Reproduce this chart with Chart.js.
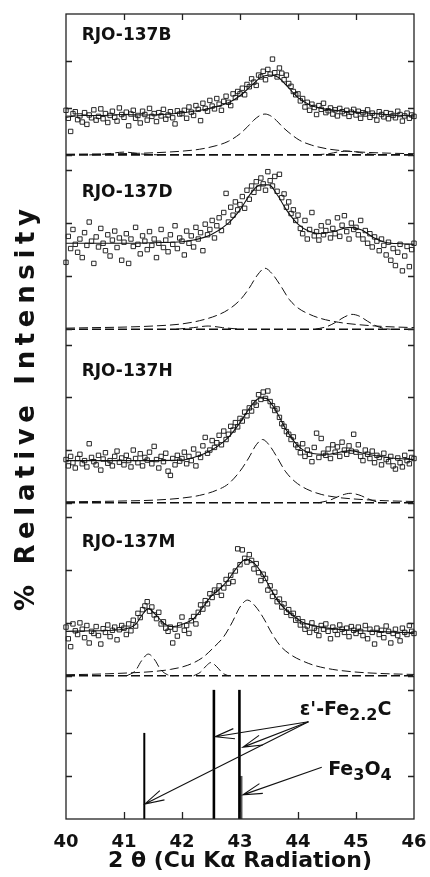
<!DOCTYPE html>
<html>
<head>
<meta charset="utf-8">
<script src="https://cdn.jsdelivr.net/npm/chart.js@4.4.1/dist/chart.umd.min.js"></script>
<style>
  html, body { margin: 0; padding: 0; background: #fff; }
  #wrap { width: 430px; height: 877px; }
</style>
</head>
<body>
<div id="wrap"><canvas id="xrd" width="430" height="877"></canvas></div>
<script>
// ================= DATA =================
// scans: one value every 0.04 deg from 40 to 46 (2 theta), intensity in panel units
const scanStart = 40;
const scanStep = 0.04;

const sampleNames = ["RJO-137B", "RJO-137D", "RJO-137H", "RJO-137M"];
const xTickValues = [40, 41, 42, 43, 44, 45, 46];
const yTickValues = [0, 1, 2, 3];
const xTitle = "2 θ (Cu Kα Radiation)";
const yTitle = "% Relative Intensity";

const scanB = [
  0.95, 0.78, 0.50, 0.88, 0.92, 0.75, 0.83, 0.70, 0.90, 0.65, 0.85, 0.79, 0.96, 0.74, 0.82, 0.98, 0.77, 0.88, 0.69, 0.84, 0.93, 0.80, 0.72, 1.00, 0.86,
  0.80, 0.91, 0.62, 0.87, 0.95, 0.78, 0.84, 0.68, 0.93, 0.86, 0.74, 0.99, 0.82, 0.88, 0.71, 0.90, 0.83, 0.97, 0.76, 0.85, 0.92, 0.79, 0.66, 0.94, 0.87,
  0.88, 0.95, 0.78, 1.02, 0.91, 0.84, 1.05, 0.97, 0.73, 1.10, 0.99, 0.93, 1.16, 1.04, 0.98, 1.20, 1.08, 0.95, 1.14, 1.25, 1.12, 1.05, 1.30, 1.22, 1.35,
  1.30, 1.42, 1.28, 1.50, 1.45, 1.62, 1.55, 1.48, 1.70, 1.66, 1.78, 1.60, 1.82, 1.72, 2.04, 1.75, 1.66, 1.85, 1.74, 1.60, 1.70, 1.52, 1.46, 1.35, 1.28,
  1.30, 1.15, 1.20, 1.02, 1.12, 0.95, 1.08, 1.01, 0.86, 1.05, 0.97, 1.10, 0.90, 0.94, 1.00, 0.87, 0.96, 0.83, 0.99, 0.92, 0.88, 0.95, 0.82, 0.91, 0.97,
  0.85, 0.93, 0.78, 0.90, 0.87, 0.96, 0.80, 0.89, 0.84, 0.74, 0.92, 0.86, 0.81, 0.90, 0.77, 0.88, 0.84, 0.79, 0.93, 0.86, 0.72, 0.83, 0.89, 0.78, 0.85, 0.82,
];
const scanD = [
  1.26, 1.75, 1.52, 1.88, 1.60, 1.45, 1.70, 1.35, 1.82, 1.58, 2.02, 1.66, 1.24, 1.74, 1.55, 1.90, 1.62, 1.48, 1.78, 1.38, 1.68, 1.85, 1.54, 1.72, 1.30,
  1.64, 1.80, 1.24, 1.70, 1.56, 1.92, 1.60, 1.42, 1.76, 1.66, 1.50, 1.84, 1.58, 1.70, 1.35, 1.62, 1.88, 1.54, 1.68, 1.46, 1.78, 1.60, 1.95, 1.52, 1.72,
  1.66, 1.40, 1.85, 1.62, 1.76, 1.55, 1.92, 1.70, 1.82, 1.48, 1.98, 1.78, 1.88, 2.05, 1.72, 1.95, 2.10, 1.86, 2.20, 2.56, 2.02, 2.30, 2.15, 2.40, 2.25,
  2.35, 2.50, 2.28, 2.62, 2.45, 2.70, 2.58, 2.78, 2.66, 2.85, 2.74, 2.62, 2.97, 2.80, 2.70, 2.88, 2.60, 2.92, 2.48, 2.55, 2.30, 2.40, 2.18, 2.25, 2.05,
  2.15, 1.90, 1.80, 2.05, 1.70, 1.88, 2.20, 1.76, 1.84, 1.68, 1.95, 1.78, 1.86, 2.02, 1.72, 1.90, 1.80, 2.10, 1.75, 1.96, 2.14, 1.84, 1.70, 2.00, 1.88,
  1.92, 1.78, 2.05, 1.70, 1.86, 1.62, 1.80, 1.55, 1.74, 1.66, 1.48, 1.70, 1.58, 1.40, 1.64, 1.30, 1.52, 1.20, 1.45, 1.60, 1.10, 1.38, 1.56, 1.18, 1.50, 1.62,
];
const scanH = [
  0.82, 0.70, 0.88, 0.76, 0.66, 0.84, 0.92, 0.74, 0.80, 0.68, 1.12, 0.86, 0.78, 0.72, 0.90, 0.62, 0.83, 0.95, 0.75, 0.80, 0.70, 0.88, 0.98, 0.77, 0.85,
  0.72, 0.90, 0.80, 0.68, 1.00, 0.84, 0.76, 0.93, 0.70, 0.86, 0.81, 0.96, 0.74, 1.07, 0.82, 0.66, 0.88, 0.78, 0.94, 0.60, 0.52, 0.84, 0.72, 0.90, 0.79,
  0.84, 0.96, 0.74, 0.88, 0.80, 1.02, 0.70, 0.92, 0.86, 1.08, 1.24, 0.94, 1.00, 1.18, 1.05, 1.14, 1.28, 1.10, 1.36, 1.20, 1.30, 1.45, 1.38, 1.52, 1.44,
  1.60, 1.55, 1.72, 1.65, 1.80, 1.74, 1.90, 1.85, 2.05, 1.96, 2.10, 1.98, 2.12, 1.92, 1.84, 1.75, 1.78, 1.62, 1.50, 1.45, 1.35, 1.30, 1.20, 1.25, 1.10,
  1.05, 0.95, 1.12, 0.88, 1.00, 0.92, 0.78, 1.05, 1.32, 0.86, 1.22, 0.94, 0.90, 1.02, 0.84, 1.10, 0.96, 1.06, 0.88, 1.15, 1.00, 0.92, 1.08, 0.98, 1.30,
  0.96, 1.10, 0.88, 0.80, 1.00, 0.92, 0.84, 0.98, 0.76, 0.90, 0.86, 0.72, 0.94, 0.82, 0.78, 0.88, 0.70, 0.64, 0.85, 0.76, 0.68, 0.90, 0.80, 0.74, 0.86, 0.84,
];
const scanM = [
  0.92, 0.70, 0.55, 0.98, 0.85, 0.78, 1.00, 0.88, 0.72, 0.95, 0.62, 0.84, 0.80, 0.93, 0.76, 0.60, 0.89, 0.82, 0.96, 0.74, 0.86, 0.92, 0.68, 0.87, 0.95,
  0.90, 0.78, 0.98, 0.85, 1.05, 0.94, 1.18, 1.10, 1.25, 1.32, 1.40, 1.22, 1.30, 1.15, 1.08, 1.20, 0.98, 1.02, 0.90, 0.84, 0.92, 0.62, 0.88, 0.75, 0.96,
  1.11, 0.86, 0.95, 0.80, 1.04, 1.12, 0.98, 1.20, 1.34, 1.26, 1.42, 1.36, 1.55, 1.48, 1.62, 1.58, 1.70, 1.52, 1.66, 1.82, 1.75, 1.90, 1.78, 1.98, 2.40,
  2.10, 2.38, 2.22, 2.15, 2.29, 2.18, 2.02, 2.12, 1.95, 1.80, 1.92, 1.84, 1.62, 1.70, 1.50, 1.58, 1.40, 1.45, 1.30, 1.36, 1.20, 1.25, 1.14, 1.18, 1.05,
  1.08, 0.96, 1.02, 0.88, 0.94, 0.82, 1.00, 0.90, 0.86, 0.76, 0.95, 0.88, 0.98, 0.84, 0.70, 0.92, 0.86, 0.78, 0.96, 0.88, 0.82, 0.90, 0.74, 0.93, 0.86,
  0.80, 0.92, 0.84, 0.76, 0.95, 0.70, 0.88, 0.82, 0.60, 0.90, 0.78, 0.86, 0.72, 0.94, 0.84, 0.62, 0.80, 0.88, 0.76, 0.66, 0.90, 0.82, 0.78, 0.95, 0.84, 0.80,
];

// fitted curves [2theta, intensity]
const fitB = [[40, 0.80], [40.3, 0.84], [40.6, 0.84], [41, 0.86], [41.4, 0.85], [41.8, 0.87], [42.2, 0.93], [42.5, 1.0], [42.8, 1.11], [43, 1.26], [43.2, 1.48], [43.35, 1.64], [43.5, 1.70], [43.65, 1.66], [43.8, 1.48], [44, 1.22], [44.2, 1.07], [44.4, 0.99], [44.7, 0.94], [45, 0.91], [45.4, 0.87], [45.8, 0.84], [46, 0.83]];
const fitD = [[40, 1.62], [40.5, 1.62], [41, 1.62], [41.5, 1.63], [42, 1.65], [42.2, 1.68], [42.5, 1.78], [42.8, 2.0], [43, 2.25], [43.2, 2.58], [43.35, 2.72], [43.5, 2.72], [43.65, 2.52], [43.8, 2.25], [44, 1.98], [44.2, 1.84], [44.4, 1.80], [44.6, 1.84], [44.9, 1.92], [45.1, 1.87], [45.3, 1.73], [45.5, 1.64], [45.8, 1.61], [46, 1.60]];
const fitH = [[40, 0.80], [41, 0.80], [42, 0.81], [42.2, 0.86], [42.4, 0.94], [42.6, 1.06], [42.8, 1.24], [43, 1.52], [43.2, 1.85], [43.35, 1.99], [43.45, 1.98], [43.6, 1.78], [43.8, 1.38], [44, 1.08], [44.2, 0.95], [44.5, 0.92], [44.9, 0.99], [45.2, 0.92], [45.6, 0.85], [46, 0.82]];
const fitM = [[40, 0.84], [40.5, 0.85], [41, 0.88], [41.2, 0.97], [41.3, 1.13], [41.42, 1.27], [41.55, 1.15], [41.7, 0.98], [41.85, 0.93], [42, 0.97], [42.2, 1.08], [42.35, 1.28], [42.5, 1.5], [42.65, 1.64], [42.8, 1.82], [42.95, 2.05], [43.1, 2.2], [43.25, 2.12], [43.4, 1.9], [43.55, 1.6], [43.7, 1.35], [43.9, 1.15], [44.1, 1.0], [44.4, 0.92], [44.8, 0.87], [45.3, 0.84], [46, 0.81]];

// deconvoluted peaks (dashed)
const baseline = [[40, 0], [46, 0]];
const peakB = [[40, 0.015], [40.5, 0.02], [41, 0.028], [41.5, 0.045], [42, 0.08], [42.3, 0.12], [42.6, 0.2], [42.8, 0.29], [43, 0.45], [43.13, 0.6], [43.23, 0.73], [43.33, 0.83], [43.43, 0.87], [43.53, 0.83], [43.63, 0.73], [43.73, 0.6], [43.83, 0.49], [44.03, 0.31], [44.23, 0.21], [44.5, 0.13], [44.8, 0.085], [45.2, 0.053], [45.6, 0.036], [46, 0.026]];
const minorB1 = [[40.4, 0], [40.7, 0.02], [40.85, 0.045], [41, 0.06], [41.15, 0.045], [41.3, 0.02], [41.6, 0]];
const minorB2 = [[44.3, 0], [44.55, 0.03], [44.7, 0.065], [44.85, 0.08], [45, 0.065], [45.15, 0.03], [45.4, 0]];
const peakD = [[40, 0.02], [40.5, 0.03], [41, 0.04], [41.5, 0.06], [42, 0.1], [42.3, 0.16], [42.6, 0.26], [42.8, 0.37], [43, 0.55], [43.15, 0.76], [43.3, 1.02], [43.43, 1.15], [43.55, 1.05], [43.7, 0.82], [43.85, 0.56], [44, 0.4], [44.2, 0.28], [44.4, 0.2], [44.7, 0.13], [45, 0.09], [45.5, 0.05], [46, 0.03]];
const minorD1 = [[41.9, 0], [42.2, 0.03], [42.45, 0.06], [42.7, 0.03], [43, 0]];
const minorD2 = [[44.3, 0], [44.5, 0.05], [44.65, 0.13], [44.8, 0.23], [44.93, 0.28], [45.05, 0.25], [45.2, 0.15], [45.35, 0.06], [45.5, 0.01], [45.6, 0]];
const peakH = [[40, 0.02], [40.5, 0.025], [41, 0.035], [41.5, 0.05], [42, 0.09], [42.3, 0.14], [42.6, 0.24], [42.8, 0.36], [43, 0.6], [43.15, 0.85], [43.28, 1.1], [43.39, 1.2], [43.5, 1.1], [43.63, 0.88], [43.78, 0.6], [43.95, 0.4], [44.15, 0.26], [44.4, 0.16], [44.7, 0.1], [45, 0.07], [45.5, 0.04], [46, 0.025]];
const minorH = [[44.35, 0], [44.55, 0.05], [44.72, 0.13], [44.9, 0.18], [45.05, 0.15], [45.2, 0.08], [45.35, 0.02], [45.5, 0]];
const peakM = [[40, 0.02], [40.5, 0.03], [41, 0.05], [41.5, 0.08], [41.8, 0.12], [42.1, 0.2], [42.35, 0.34], [42.55, 0.54], [42.72, 0.74], [42.87, 1.02], [43, 1.3], [43.13, 1.43], [43.26, 1.32], [43.4, 1.1], [43.55, 0.8], [43.7, 0.56], [43.9, 0.38], [44.1, 0.27], [44.3, 0.19], [44.6, 0.12], [45, 0.07], [45.5, 0.04], [46, 0.025]];
const minorM1 = [[41.05, 0], [41.2, 0.1], [41.3, 0.28], [41.42, 0.41], [41.53, 0.3], [41.63, 0.12], [41.75, 0.02], [41.85, 0]];
const minorM2 = [[42.2, 0], [42.32, 0.07], [42.42, 0.19], [42.5, 0.25], [42.6, 0.17], [42.7, 0.05], [42.8, 0]];

// reference patterns (stick lines)
const epsPos = [41.35, 42.55, 42.99];
const epsHeight = [2, 3, 3];
const fePos = [43.02];
const feHeight = [1];

// ================= CHART =================
const FONT = '"DejaVu Sans", "Liberation Sans", Arial, sans-serif';
const INK = "#111";

const panels = [
  { id: "p1", scan: scanB, fit: fitB, parts: [peakB, minorB1, minorB2] },
  { id: "p2", scan: scanD, fit: fitD, parts: [peakD, minorD1, minorD2] },
  { id: "p3", scan: scanH, fit: fitH, parts: [peakH, minorH] },
  { id: "p4", scan: scanM, fit: fitM, parts: [peakM, minorM1, minorM2] },
];

const pairs = (arr) => arr.map(([x, y]) => ({ x, y }));
const scanPoints = (vals) => vals.map((y, i) => ({ x: scanStart + i * scanStep, y }));

const datasets = [];
panels.forEach((p) => {
  datasets.push({
    yAxisID: p.id,
    data: scanPoints(p.scan),
    pointStyle: "rect",
    pointRadius: 3.1,
    borderWidth: 0.9,
    borderColor: INK,
    backgroundColor: "rgba(255,255,255,0)",
    clip: false,
  });
  datasets.push({
    yAxisID: p.id,
    data: pairs(p.fit),
    showLine: true,
    pointRadius: 0,
    borderWidth: 1.1,
    borderColor: INK,
    cubicInterpolationMode: "monotone",
  });
  [baseline, ...p.parts].forEach((part, k) => {
    datasets.push({
      yAxisID: p.id,
      data: pairs(part),
      showLine: true,
      pointRadius: 0,
      borderWidth: k === 0 ? 1.6 : 1,
      borderColor: INK,
      borderDash: [9, 4],
      cubicInterpolationMode: "monotone",
    });
  });
});

epsPos.forEach((x, i) => {
  datasets.push({
    yAxisID: "p5",
    data: [{ x, y: 0 }, { x, y: epsHeight[i] }],
    showLine: true,
    pointRadius: 0,
    borderWidth: i === 0 ? 2 : 2.6,
    borderColor: "#000",
  });
});
fePos.forEach((x, i) => {
  datasets.push({
    yAxisID: "p5",
    data: [{ x, y: 0 }, { x, y: feHeight[i] }],
    showLine: true,
    pointRadius: 0,
    borderWidth: 2.6,
    borderColor: "#555",
  });
});

function panelAxis(weight, stackWeight, min, max) {
  return {
    type: "linear",
    position: "left",
    stack: "xrd",
    stackWeight,
    weight,
    min,
    max,
    grid: { display: false, drawTicks: false },
    border: { display: false },
    ticks: { display: false },
  };
}

// label positions / annotation geometry (data coords)
const labelX = 40.27;
const labelY = [2.45, 2.49, 2.41, 2.43];
const epsLabel = { x: 44.03, y: 2.42 };
const feLabel = { x: 44.52, y: 1.02 };
const epsArrows = [
  [44.18, 2.26, 42.57, 1.91],
  [44.18, 2.26, 43.05, 1.67],
  [44.18, 2.26, 41.36, 0.35],
];
const feArrow = [44.41, 1.2, 43.05, 0.56];

function drawArrow(ctx, x0, y0, x1, y1) {
  const ang = Math.atan2(y0 - y1, x0 - x1);
  const len = 20, spread = 0.26;
  ctx.beginPath();
  ctx.moveTo(x0, y0);
  ctx.lineTo(x1, y1);
  ctx.moveTo(x1 + len * Math.cos(ang - spread), y1 + len * Math.sin(ang - spread));
  ctx.lineTo(x1, y1);
  ctx.lineTo(x1 + len * Math.cos(ang + spread), y1 + len * Math.sin(ang + spread));
  ctx.stroke();
}

function drawRich(ctx, x, y, parts) {
  parts.forEach((p) => {
    ctx.font = `bold ${p.size}px ${FONT}`;
    ctx.fillText(p.t, x, y + (p.dy || 0));
    x += ctx.measureText(p.t).width;
  });
}

const framePlugin = {
  id: "xrdFrame",
  afterDraw(chart) {
    const { ctx, chartArea: a, scales } = chart;
    const sx = scales.x;
    ctx.save();
    ctx.strokeStyle = "#222";
    ctx.lineWidth = 1.3;
    ctx.strokeRect(a.left, a.top, a.right - a.left, a.bottom - a.top);

    // inward ticks
    ctx.beginPath();
    ["p1", "p2", "p3", "p4", "p5"].forEach((id) => {
      const s = scales[id];
      yTickValues.forEach((v) => {
        const y = Math.round(s.getPixelForValue(v)) + 0.5;
        if (v < s.min || v > s.max || y < a.top + 2 || y > a.bottom - 2) return;
        ctx.moveTo(a.left, y); ctx.lineTo(a.left + 6, y);
        ctx.moveTo(a.right, y); ctx.lineTo(a.right - 6, y);
      });
    });
    xTickValues.forEach((v) => {
      const x = Math.round(sx.getPixelForValue(v)) + 0.5;
      if (x < a.left + 2 || x > a.right - 2) return;
      ctx.moveTo(x, a.top); ctx.lineTo(x, a.top + 6);
      ctx.moveTo(x, a.bottom); ctx.lineTo(x, a.bottom - 7);
    });
    ctx.stroke();

    // sample names
    ctx.fillStyle = INK;
    ctx.textAlign = "left";
    ctx.textBaseline = "alphabetic";
    ctx.font = `bold 17px ${FONT}`;
    sampleNames.forEach((name, i) => {
      ctx.fillText(name, sx.getPixelForValue(labelX), scales[panels[i].id].getPixelForValue(labelY[i]));
    });

    // phase labels + arrows
    const s5 = scales.p5;
    drawRich(ctx, sx.getPixelForValue(epsLabel.x), s5.getPixelForValue(epsLabel.y), [
      { t: "ε'-Fe", size: 19 },
      { t: "2.2", size: 16, dy: 5 },
      { t: "C", size: 19 },
    ]);
    drawRich(ctx, sx.getPixelForValue(feLabel.x), s5.getPixelForValue(feLabel.y), [
      { t: "Fe", size: 19 },
      { t: "3", size: 16, dy: 5 },
      { t: "O", size: 19 },
      { t: "4", size: 16, dy: 5 },
    ]);
    ctx.strokeStyle = INK;
    ctx.lineWidth = 1.1;
    [...epsArrows, feArrow].forEach(([x0, y0, x1, y1]) => {
      drawArrow(ctx, sx.getPixelForValue(x0), s5.getPixelForValue(y0), sx.getPixelForValue(x1), s5.getPixelForValue(y1));
    });

    // y title, letter spaced
    ctx.save();
    ctx.translate(34, 410);
    ctx.rotate(-Math.PI / 2);
    ctx.font = `bold 26px ${FONT}`;
    const chars = [...yTitle];
    const widths = chars.map((c) => ctx.measureText(c).width);
    const total = 402;
    const gap = (total - widths.reduce((t, w) => t + w, 0)) / (chars.length - 1);
    let tx = -total / 2;
    chars.forEach((c, i) => {
      ctx.fillText(c, tx, 0);
      tx += widths[i] + gap;
    });
    ctx.restore();
    ctx.restore();
  },
};

new Chart(document.getElementById("xrd").getContext("2d"), {
  type: "scatter",
  data: { datasets },
  options: {
    responsive: false,
    maintainAspectRatio: false,
    animation: false,
    devicePixelRatio: 1,
    layout: { padding: { left: 66, right: 16, top: 14, bottom: 5 } },
    plugins: { legend: { display: false }, tooltip: { enabled: false } },
    scales: {
      x: {
        type: "linear",
        position: "bottom",
        min: 40,
        max: 46,
        grid: { display: false, drawTicks: false },
        border: { display: false },
        afterBuildTicks: (scale) => { scale.ticks = xTickValues.map((value) => ({ value })); },
        // end labels sit inside the outer padding, so don't let them shrink the plot
        afterFit: (scale) => { scale.paddingLeft = 0; scale.paddingRight = 0; },
        ticks: {
          autoSkip: false,
          maxRotation: 0,
          padding: 14,
          color: INK,
          font: { family: FONT, size: 18, weight: "bold", lineHeight: 1 },
        },
        title: {
          display: true,
          text: xTitle,
          color: INK,
          padding: { top: -15, bottom: 0 },
          font: { family: FONT, size: 22, weight: "bold", lineHeight: 1 },
        },
      },
      p1: panelAxis(5, 155, -0.30, 3),
      p2: panelAxis(4, 174, -0.26, 3.02),
      p3: panelAxis(3, 173, -0.25, 3.03),
      p4: panelAxis(2, 173, -0.25, 3.02),
      p5: panelAxis(1, 130, 0, 3.02),
    },
  },
  plugins: [framePlugin],
});
</script>
</body>
</html>
